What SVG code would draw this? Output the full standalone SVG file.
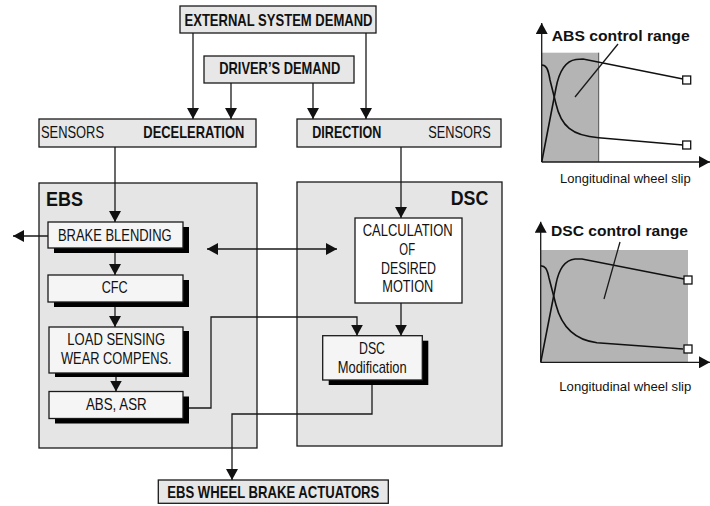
<svg xmlns="http://www.w3.org/2000/svg" width="710" height="506" viewBox="0 0 710 506">
<style>
.box{fill:#e7e7e7;stroke:#1a1a1a;stroke-width:1.3}
.cont{fill:#e5e5e5;stroke:#1a1a1a;stroke-width:1.3}
.inner{fill:#f5f5f5;stroke:#1a1a1a;stroke-width:1.3}
.white{fill:#ffffff;stroke:#1a1a1a;stroke-width:1.3}
.sh{fill:#000}
.ln{fill:none;stroke:#1a1a1a;stroke-width:1.3}
.cv{fill:none;stroke:#111;stroke-width:1.6}
.t{font-family:"Liberation Sans",Arial,sans-serif;font-size:17px;fill:#111}
.m{text-anchor:middle}
.b{font-weight:bold}
.big{font-size:20px}
.ct{font-size:15px;font-weight:bold}
.sm{font-size:13.5px}
.sq{fill:#fff;stroke:#111;stroke-width:1.3}
.gray{fill:#b4b4b4}
</style>
<defs>
<marker id="ah" viewBox="0 0 11 12" markerWidth="11" markerHeight="12" refX="11" refY="6" orient="auto-start-reverse" markerUnits="userSpaceOnUse">
<path d="M0,0 L11,6 L0,12 z" fill="#111"/>
</marker>
</defs>

<g id="external-demand">
<rect class="box" x="180" y="6" width="196" height="27"/>
<text class="t b m" x="278.5" y="26" textLength="188" lengthAdjust="spacingAndGlyphs">EXTERNAL SYSTEM DEMAND</text>
</g>
<g id="drivers-demand">
<rect class="box" x="204" y="56" width="150" height="27"/>
<text class="t b m" x="279.7" y="74" textLength="121" lengthAdjust="spacingAndGlyphs">DRIVER’S DEMAND</text>
</g>
<g id="deceleration-sensors">
<rect class="box" x="39" y="119" width="217" height="28"/>
<text class="t" x="41" y="138" textLength="63" lengthAdjust="spacingAndGlyphs">SENSORS</text>
<text class="t b" x="143.3" y="138" textLength="101" lengthAdjust="spacingAndGlyphs">DECELERATION</text>
</g>
<g id="direction-sensors">
<rect class="box" x="297" y="119" width="204" height="28"/>
<text class="t b" x="312.3" y="138" textLength="69" lengthAdjust="spacingAndGlyphs">DIRECTION</text>
<text class="t" x="428.3" y="138" textLength="62.4" lengthAdjust="spacingAndGlyphs">SENSORS</text>
</g>

<g id="ebs">
<rect class="cont" x="39" y="183" width="218" height="265"/>
<text class="t b big" x="46" y="205.7" textLength="37" lengthAdjust="spacingAndGlyphs">EBS</text>
</g>
<g id="dsc">
<rect class="cont" x="297" y="182" width="205" height="264"/>
<text class="t b big" x="450.7" y="205" textLength="37.6" lengthAdjust="spacingAndGlyphs">DSC</text>
</g>

<g id="brake-blending">
<rect class="sh" x="54" y="227" width="135" height="26"/>
<rect class="inner" x="48" y="222" width="135" height="26"/>
<text class="t m" x="114.8" y="241" textLength="113.7" lengthAdjust="spacingAndGlyphs">BRAKE BLENDING</text>
</g>
<g id="cfc">
<rect class="sh" x="54" y="280" width="135" height="27"/>
<rect class="inner" x="48" y="275" width="135" height="27"/>
<text class="t m" x="114.7" y="293" textLength="26" lengthAdjust="spacingAndGlyphs">CFC</text>
</g>
<g id="load-sensing">
<rect class="sh" x="55" y="331" width="134" height="46"/>
<rect class="inner" x="49" y="327" width="134" height="46"/>
<text class="t m" x="116.2" y="345" textLength="97.7" lengthAdjust="spacingAndGlyphs">LOAD SENSING</text>
<text class="t m" x="116.3" y="364" textLength="110.7" lengthAdjust="spacingAndGlyphs">WEAR COMPENS.</text>
</g>
<g id="abs-asr">
<rect class="sh" x="55" y="396.5" width="134" height="27"/>
<rect class="inner" x="49" y="391.5" width="134" height="27"/>
<text class="t m" x="116.3" y="410" textLength="60.7" lengthAdjust="spacingAndGlyphs">ABS, ASR</text>
</g>
<g id="calculation">
<rect class="white" x="355" y="218" width="107" height="85"/>
<text class="t m" x="407.7" y="236" textLength="90" lengthAdjust="spacingAndGlyphs">CALCULATION</text>
<text class="t m" x="407.2" y="255" textLength="15.7" lengthAdjust="spacingAndGlyphs">OF</text>
<text class="t m" x="408.5" y="273.5" textLength="55" lengthAdjust="spacingAndGlyphs">DESIRED</text>
<text class="t m" x="407.8" y="292" textLength="51" lengthAdjust="spacingAndGlyphs">MOTION</text>
</g>
<g id="dsc-modification">
<rect class="sh" x="328.7" y="340.7" width="99.6" height="44.3"/>
<rect class="inner" x="322.7" y="335.7" width="99.6" height="44.3"/>
<text class="t m" x="372" y="353.5" textLength="26" lengthAdjust="spacingAndGlyphs">DSC</text>
<text class="t m" x="372.2" y="372.5" textLength="69" lengthAdjust="spacingAndGlyphs">Modification</text>
</g>
<g id="actuators">
<rect class="box" x="158.3" y="480" width="230" height="23.3"/>
<text class="t b m" x="273.3" y="497.5" textLength="212" lengthAdjust="spacingAndGlyphs">EBS WHEEL BRAKE ACTUATORS</text>
</g>

<g id="connectors">
<path class="ln" d="M193,33 V119" marker-end="url(#ah)"/>
<path class="ln" d="M231,83 V119" marker-end="url(#ah)"/>
<path class="ln" d="M313,83 V119" marker-end="url(#ah)"/>
<path class="ln" d="M366,33 V119" marker-end="url(#ah)"/>
<path class="ln" d="M115,147 V222" marker-end="url(#ah)"/>
<path class="ln" d="M401,147 V218" marker-end="url(#ah)"/>
<path class="ln" d="M48,236 H13" marker-end="url(#ah)"/>
<path class="ln" d="M207,249 H337" marker-start="url(#ah)" marker-end="url(#ah)"/>
<path class="ln" d="M115,253 V275" marker-end="url(#ah)"/>
<path class="ln" d="M115,307 V327" marker-end="url(#ah)"/>
<path class="ln" d="M116,377 V391.5" marker-end="url(#ah)"/>
<path class="ln" d="M189,408 H211 V317 H357 V335.7" marker-end="url(#ah)"/>
<path class="ln" d="M401,303 V335.7" marker-end="url(#ah)"/>
<path class="ln" d="M372,385 V414 H232 V480" marker-end="url(#ah)"/>
</g>

<g id="abs-chart">
<rect class="gray" x="541.7" y="52.7" width="57" height="109.3"/>
<line x1="598.7" y1="52.7" x2="598.7" y2="162" stroke="#444" stroke-width="0.9"/>
<path class="ln" d="M541.7,162 V23" marker-end="url(#ah)"/>
<path class="ln" d="M541.7,162 H710" marker-end="url(#ah)"/>
<path class="cv" d="M541.7,162 L556,88 C559,72 565,61 576,59.5 L583,59 L683,79"/>
<path class="cv" d="M541.7,65 C546,65 548,68 550,80 L556,104 C561,126 572,136 598.7,137.7 L683,145"/>
<rect class="sq" x="682.7" y="76" width="8" height="8"/>
<rect class="sq" x="682.7" y="141" width="8" height="8"/>
<line class="ln" x1="618" y1="44" x2="575" y2="97"/>
<text class="t ct" x="551.7" y="41" textLength="138" lengthAdjust="spacingAndGlyphs">ABS control range</text>
<text class="t sm" x="560" y="183" textLength="130.7" lengthAdjust="spacingAndGlyphs">Longitudinal wheel slip</text>
</g>

<g id="dsc-chart">
<rect class="gray" x="541" y="250" width="147" height="112"/>
<path class="ln" d="M540.7,362.3 V221.7" marker-end="url(#ah)"/>
<path class="ln" d="M540.7,362.3 H710" marker-end="url(#ah)"/>
<path class="cv" d="M540.7,362.3 L556,284 C559,268 566,260 575,259 L582,259 L684,279"/>
<path class="cv" d="M540.7,265.7 C545,266 547,268 549,278 L556,305 C562,328 575,340 597,342.7 L683,349"/>
<rect class="sq" x="684" y="276" width="8" height="8"/>
<rect class="sq" x="684" y="345" width="8" height="8"/>
<line class="ln" x1="620" y1="242" x2="604" y2="299"/>
<text class="t ct" x="551" y="236" textLength="137" lengthAdjust="spacingAndGlyphs">DSC control range</text>
<text class="t sm" x="559.3" y="391" textLength="132" lengthAdjust="spacingAndGlyphs">Longitudinal wheel slip</text>
</g>
</svg>
